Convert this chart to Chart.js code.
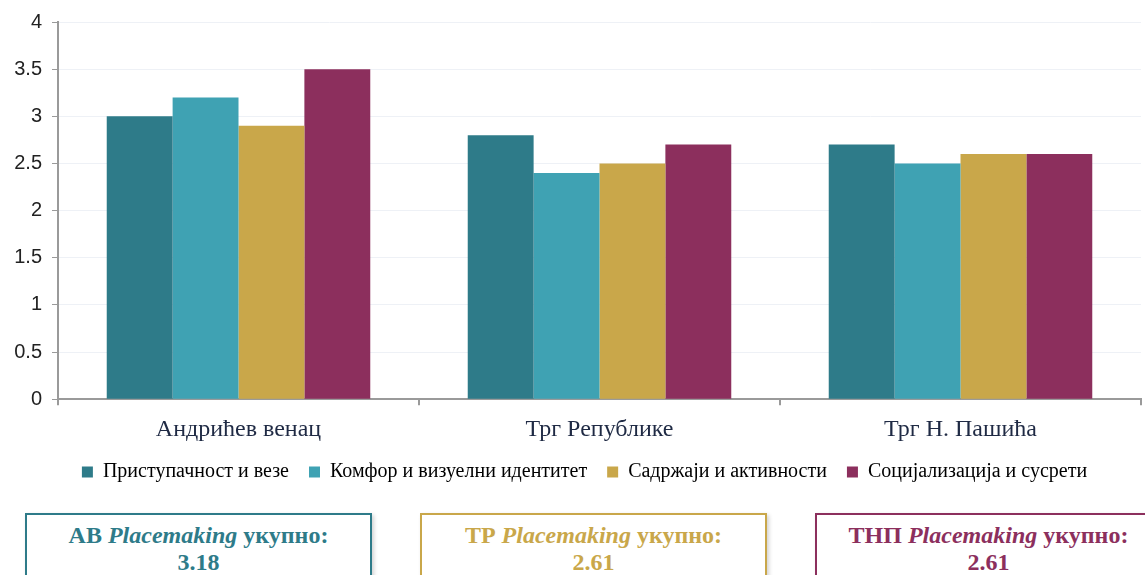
<!DOCTYPE html>
<html>
<head>
<meta charset="utf-8">
<script src="https://cdn.jsdelivr.net/npm/chart.js@4"></script>
<style>
  body { margin: 0; background: #fff; }
  #wrap { position: relative; width: 1145px; height: 575px; overflow: hidden; }
  #chart { position: absolute; left: 0; top: 0; }
  .box {
    position: absolute; top: 513px; width: 347px; height: 80px;
    border: 2.5px solid; background: #fff;
    box-shadow: 2px 2px 4px rgba(0,0,0,0.18);
    font-family: "Liberation Serif", "Times New Roman", serif;
    font-weight: bold; font-size: 24px; line-height: 27px;
    text-align: center; padding-top: 7px; box-sizing: border-box;
  }
</style>
</head>
<body>
<div id="wrap">
  <canvas id="chart" width="1145" height="500"></canvas>
  <div class="box" id="box0" style="left:25px"></div>
  <div class="box" id="box1" style="left:420px"></div>
  <div class="box" id="box2" style="left:815px"></div>
</div>
<script>
// Локације и оцене по категоријама
const lokacije = ['Андрићев венац', 'Трг Републике', 'Трг Н. Пашића'];
const kategorije = ['Приступачност и везе', 'Комфор и визуелни идентитет', 'Садржаји и активности', 'Социјализација и сусрети'];
const pristupacnost = [3.0, 2.8, 2.7];
const komfor = [3.2, 2.4, 2.5];
const sadrzaji = [2.9, 2.5, 2.6];
const socijalizacija = [3.5, 2.7, 2.6];
const boje = ['#2E7B89', '#3FA2B3', '#C9A74A', '#8C2F5D'];

// Укупне оцене по локацији
const skracenice = ['АВ', 'ТР', 'ТНП'];
const ukupno = ['3.18', '2.61', '2.61'];
const bojeOkvira = ['#2E7B89', '#C9A74A', '#8C2F5D'];

const serif = '"Liberation Serif", "Times New Roman", serif';
const sans = '"Liberation Sans", Arial, sans-serif';

const serije = [pristupacnost, komfor, sadrzaji, socijalizacija];

// легенда мало удесно од средине
const pomeriLegendu = {
  id: 'pomeriLegendu',
  afterLayout(chart) {
    chart.legend.left += 14;
    chart.legend.right += 14;
  }
};

new Chart(document.getElementById('chart'), {
  type: 'bar',
  data: {
    labels: lokacije,
    datasets: serije.map((vals, i) => ({
      label: kategorije[i],
      data: vals,
      backgroundColor: boje[i],
      borderWidth: 0,
      categoryPercentage: 0.73,
      barPercentage: 1.0
    }))
  },
  options: {
    responsive: false,
    animation: false,
    layout: { padding: { top: 22, right: 4, left: 0, bottom: 8 } },
    plugins: {
      tooltip: { enabled: false },
      legend: {
        position: 'bottom',
        labels: {
          boxWidth: 11, boxHeight: 11, padding: 20,
          color: '#000',
          font: { family: serif, size: 20 }
        }
      }
    },
    scales: {
      x: {
        afterFit(scale) { scale.height -= 12; },
        grid: { offset: true, drawOnChartArea: false, tickLength: 6, color: '#9a9a9a', lineWidth: 2 },
        border: { color: '#9a9a9a', width: 2 },
        ticks: { color: '#1f2a44', padding: 10, font: { family: serif, size: 24 } }
      },
      y: {
        min: 0, max: 4,
        afterFit(scale) { scale.width = 58; },
        grid: { color: '#eef1f6', tickColor: '#9a9a9a', tickLength: 6 },
        border: { color: '#9a9a9a', width: 2 },
        ticks: {
          stepSize: 0.5, color: '#222', padding: 10,
          font: { family: sans, size: 20 },
          callback: v => String(v)
        }
      }
    }
  },
  plugins: [pomeriLegendu]
});

// Оквири са укупним оценама
skracenice.forEach((s, i) => {
  const el = document.getElementById('box' + i);
  el.style.borderColor = bojeOkvira[i];
  el.style.color = bojeOkvira[i];
  el.innerHTML = s + ' <i>Placemaking</i> укупно:<br>' + ukupno[i];
});
</script>
</body>
</html>
